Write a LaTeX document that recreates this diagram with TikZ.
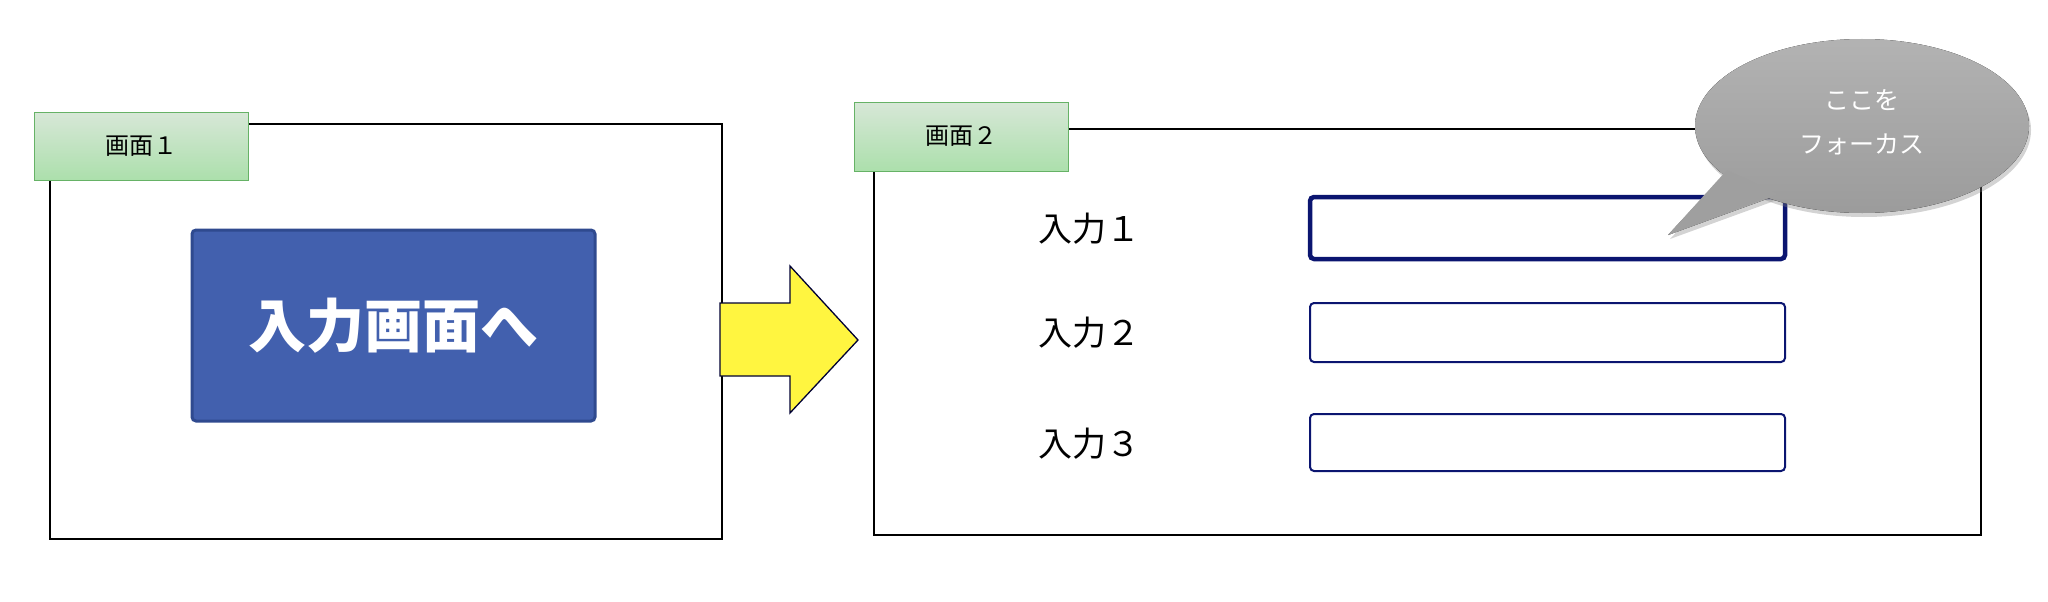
\documentclass[tikz,border=0pt]{standalone}
\usepackage{fontspec}
\newfontfamily\cjk{Noto Sans CJK JP}
\usetikzlibrary{shapes.geometric,shadows}
\definecolor{btnblue}{HTML}{4260AE}
\definecolor{btnedge}{HTML}{2F4A8F}
\definecolor{navy}{HTML}{0B1570}
\tikzset{
  screen/.style={draw=black,line width=1.2pt},
  tab/.style={draw=green!50!black!60,line width=1pt,top color=green!25!gray!25,bottom color=green!45!gray!45,font=\cjk\fontsize{24}{28}\selectfont},
  field/.style={draw=navy,line width=2pt,rounded corners=4pt},
  lbl/.style={font=\cjk\fontsize{34}{40}\selectfont,anchor=west},
}
\begin{document}
\begin{tikzpicture}[x=1pt,y=-1pt]
\useasboundingbox (0,0) rectangle (2048,602);
% screen 1
\draw[screen] (50,124) rectangle (722,539);
\node[tab,minimum width=214,minimum height=68,inner sep=0] (t1) at (141,146) {画面１};
\node[draw=btnedge,line width=3pt,fill=btnblue,rounded corners=4pt,minimum width=403,minimum height=191,font=\cjk\bfseries\fontsize{58}{64}\selectfont,text=white] (btn) at (393.5,325.5) {入力画面へ};
% arrow
\draw[fill=yellow!75!white,draw=black!80!blue,line width=1.3pt] (720,303) -- (790,303) -- (790,266) -- (858,340) -- (790,413) -- (790,376) -- (720,376) -- cycle;
% screen 2
\draw[screen] (874,129) rectangle (1981,535);
\node[tab,minimum width=214,minimum height=69,inner sep=0] (t2) at (961,136.5) {画面２};
\draw[field,line width=4.5pt] (1310,197) rectangle (1785,259);
\draw[field] (1310,303) rectangle (1785,362);
\draw[field] (1310,414) rectangle (1785,471);
\node[lbl] (l1) at (1035,229) {入力１};
\node[lbl] (l2) at (1035,333) {入力２};
\node[lbl] (l3) at (1035,444) {入力３};
% callout
\begin{scope}
\fill[top color=gray!55,bottom color=gray!75,drop shadow={opacity=0.35,shadow xshift=2pt,shadow yshift=-4pt}]
  (1727,172) -- (1668,235) -- (1775,196) -- (1727,172);
\fill[top color=gray!60,bottom color=gray!78,drop shadow={opacity=0.35,shadow xshift=2pt,shadow yshift=-4pt}] (1862,126) ellipse (167 and 87);
\fill[gray!75] (1727,170) -- (1668,235) -- (1778,194) -- cycle;
\end{scope}
\node[font=\cjk\fontsize{25}{44}\selectfont,text=white,align=center] (c) at (1862,122) {ここを\\フォーカス};
\end{tikzpicture}
\end{document}
